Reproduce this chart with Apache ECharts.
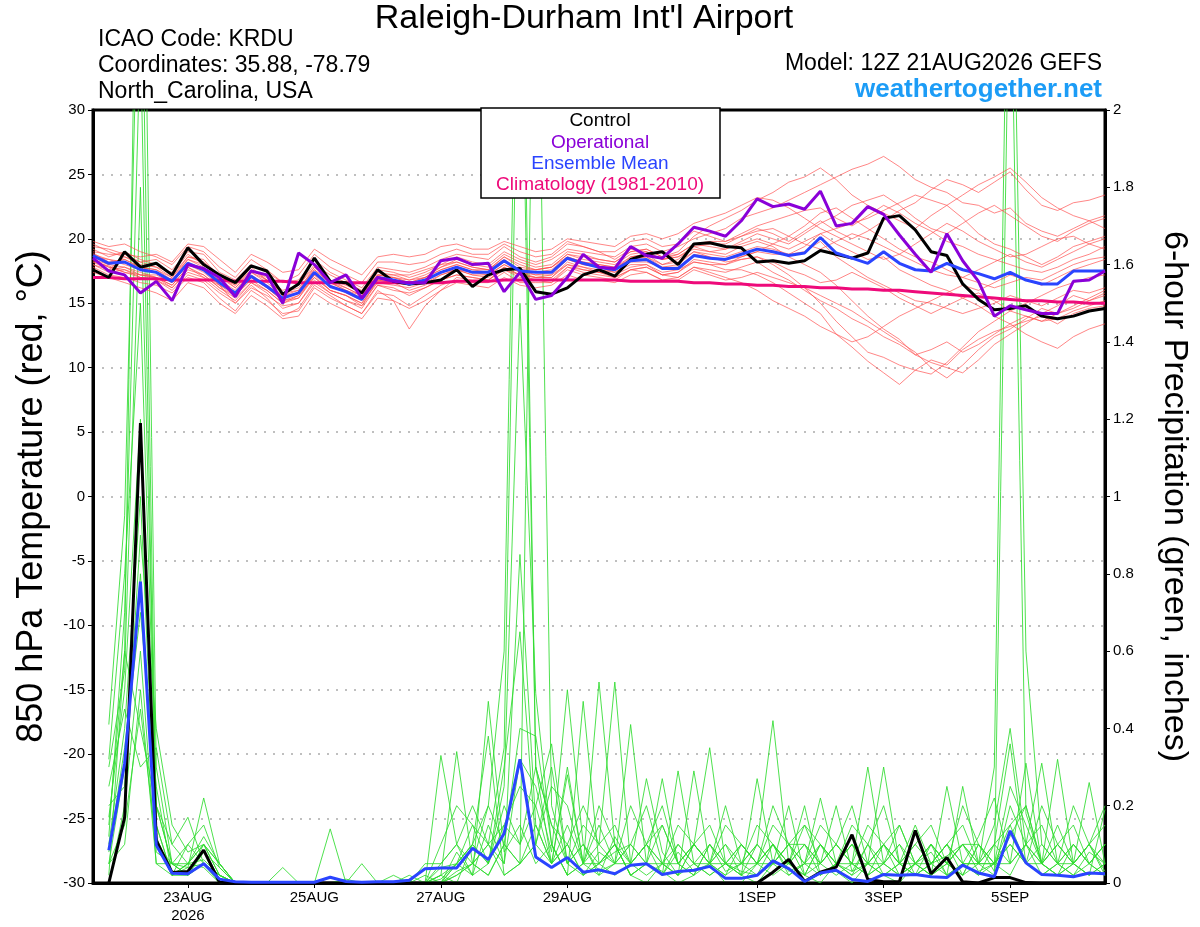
<!DOCTYPE html>
<html>
<head>
<meta charset="utf-8">
<title>KRDU GEFS meteogram</title>
<script src="https://cdn.jsdelivr.net/npm/echarts@6/dist/echarts.min.js"></script>
<style>
  html, body { margin: 0; padding: 0; background: #fff; }
  #chart { width: 1200px; height: 927px; }
</style>
</head>
<body>
<div id="chart"></div>
<script>
// 6-hourly steps from 12Z 21AUG2026 to 12Z 6SEP2026 (65 steps)
const xTickIdx = [6, 14, 22, 30, 42, 50, 58];
const xTickText = ['23AUG\n2026', '25AUG', '27AUG', '29AUG', '1SEP', '3SEP', '5SEP'];

// 850 hPa temperature (C), one value per step
const ctrlTemp = [
  17.6,17.0,19.0,17.8,18.1,17.2,19.3,18.0,17.2,16.6,
  17.9,17.5,15.7,16.5,18.5,16.7,16.6,15.8,17.6,16.7,
  16.5,16.6,16.8,17.6,16.3,17.2,17.6,17.7,15.9,15.7,
  16.2,17.2,17.6,17.1,18.4,18.8,19.0,18.0,19.6,19.7,
  19.4,19.3,18.2,18.3,18.1,18.3,19.1,18.8,18.5,18.9,
  21.6,21.8,20.7,19.0,18.7,16.5,15.3,14.5,14.6,14.8,
  14.0,13.8,14.0,14.4,14.6
];
const operTemp = [
  18.5,17.5,17.2,15.8,16.7,15.2,18.0,17.7,17.0,15.5,
  17.5,17.2,15.0,18.9,18.0,16.6,17.2,15.4,17.0,16.7,
  16.6,16.6,18.3,18.5,18.0,18.1,15.9,17.4,15.3,15.6,
  17.0,18.8,17.8,17.7,19.4,18.7,18.5,19.6,20.9,20.6,
  20.2,21.4,23.1,22.5,22.7,22.3,23.7,21.0,21.2,22.5,
  21.9,20.3,18.8,17.4,20.4,18.3,16.7,14.0,14.8,14.5,
  14.2,14.2,16.7,16.8,17.5
];
const meanTemp = [
  18.7,18.1,18.2,17.6,17.4,16.7,18.1,17.6,16.6,15.8,
  17.1,16.3,15.4,15.8,17.4,16.3,15.9,15.3,17.0,16.8,
  16.5,16.8,17.4,17.8,17.4,17.4,18.3,17.5,17.4,17.4,
  18.5,18.1,17.8,17.6,18.3,18.4,17.7,17.7,18.7,18.5,
  18.4,18.8,19.2,19.0,18.7,18.9,20.1,18.9,18.5,18.1,
  19.0,18.1,17.6,17.5,18.1,17.6,17.3,16.9,17.4,16.8,
  16.5,16.5,17.5,17.5,17.5
];
const climTemp = [
  17.0,17.0,16.9,16.9,16.9,16.8,16.8,16.8,16.8,16.7,
  16.7,16.7,16.7,16.6,16.6,16.6,16.6,16.6,16.6,16.6,
  16.6,16.6,16.6,16.7,16.7,16.7,16.8,16.8,16.8,16.8,
  16.8,16.8,16.8,16.8,16.7,16.7,16.7,16.7,16.6,16.6,
  16.5,16.5,16.4,16.4,16.3,16.3,16.2,16.2,16.1,16.1,
  16.0,16.0,15.9,15.8,15.7,15.6,15.5,15.4,15.3,15.2,
  15.2,15.1,15.1,15.0,15.0
];

// ensemble members, temperature
const memTemp = [
  [19.2,18.6,19.0,18.4,18.0,17.2,18.6,18.4,17.0,16.2,17.6,17.0,16.0,16.4,18.0,17.2,16.6,16.0,17.6,17.4,17.0,17.4,18.0,18.6,18.2,18.0,19.0,18.4,18.0,18.4,19.2,19.0,18.8,18.6,19.4,19.6,19.0,19.4,20.0,20.4,20.8,21.6,22.0,22.4,23.0,23.6,24.2,24.8,25.4,25.8,26.4,25.6,24.6,24.0,23.6,22.8,22.6,22.0,22.4,21.2,20.6,20.2,20.8,21.4,21.8],
  [18.4,17.8,17.6,17.0,16.8,16.2,17.4,17.0,16.0,15.2,16.6,15.8,14.6,15.0,16.8,15.8,15.2,14.6,16.4,16.2,15.6,16.2,16.8,17.2,17.0,16.8,17.6,17.2,16.8,16.6,17.8,17.6,17.4,17.0,17.6,17.8,17.2,17.0,17.8,17.4,17.0,16.6,16.0,15.2,14.6,14.0,13.2,12.6,11.6,10.5,9.6,8.7,9.8,10.6,10.2,11.4,12.2,12.8,13.2,13.6,14.0,13.4,14.2,14.6,14.8],
  [18.0,17.6,18.6,18.0,17.8,17.4,18.8,18.0,17.2,16.4,17.8,16.8,15.8,16.4,17.8,16.8,16.4,15.8,17.2,17.2,17.2,17.6,18.0,18.2,17.8,17.6,18.6,18.0,17.6,17.8,18.8,18.6,18.4,18.2,19.0,19.2,18.6,19.0,20.2,21.0,21.6,22.2,23.0,23.6,24.4,24.8,25.5,24.6,23.4,22.6,22.0,21.4,20.8,21.8,22.6,21.6,20.4,19.6,19.2,18.6,18.0,18.6,19.4,19.8,20.2],
  [18.8,18.4,18.2,17.8,17.6,16.8,18.2,17.6,16.8,15.6,17.0,16.2,15.2,15.4,17.0,16.0,15.6,14.8,16.8,16.6,16.0,16.4,17.2,17.6,17.2,17.2,18.0,17.4,17.0,17.0,18.2,17.8,17.4,17.6,18.6,18.8,18.0,18.4,19.4,19.0,18.8,19.4,19.8,19.4,18.6,18.0,17.4,16.4,15.2,14.0,13.0,12.2,11.0,10.4,10.0,9.6,10.6,11.8,12.6,13.4,14.2,14.8,15.6,15.2,15.6],
  [19.6,19.0,18.6,18.2,18.4,17.6,19.0,18.8,17.4,16.8,18.0,17.4,16.6,16.8,18.4,17.4,16.8,16.2,17.8,17.6,17.4,17.8,18.4,18.8,18.6,18.4,19.4,18.6,18.2,18.6,19.6,19.4,19.0,18.4,19.2,19.0,18.4,18.6,19.4,19.6,19.6,20.2,20.8,20.4,19.8,20.6,21.4,20.6,20.0,20.6,21.4,22.2,22.8,23.8,24.6,24.2,23.6,24.4,25.2,23.8,22.6,22.2,22.8,23.0,23.4],
  [17.8,17.2,17.0,16.6,16.4,15.8,17.0,16.6,15.4,14.4,16.0,15.2,14.2,14.4,16.2,15.4,14.8,14.2,15.8,15.6,14.8,15.6,16.4,16.8,16.6,16.6,17.4,16.6,16.6,16.6,17.6,17.2,17.0,16.8,17.6,17.8,17.2,17.4,18.2,18.0,18.0,18.4,18.6,18.2,17.6,17.2,16.6,16.8,17.4,16.8,16.2,15.4,14.8,14.2,14.8,15.4,15.8,15.2,14.4,14.0,13.6,13.8,14.4,14.8,15.2],
  [19.8,19.4,19.6,19.0,18.6,18.0,19.4,19.0,17.8,17.0,18.4,17.6,16.6,17.2,18.8,17.8,17.2,16.6,18.2,18.2,18.0,18.2,18.8,19.2,18.8,18.8,19.6,19.0,18.6,18.8,19.8,19.4,19.0,19.0,19.8,20.0,19.4,19.6,20.6,20.2,19.8,20.4,21.0,21.4,21.8,22.2,22.4,21.6,21.0,21.8,22.6,22.0,21.2,20.6,19.8,19.4,18.8,18.4,18.0,17.6,17.4,17.8,18.4,18.8,19.4],
  [18.2,17.6,17.8,17.2,17.0,16.4,17.8,17.2,16.2,15.4,16.6,16.0,15.0,15.4,17.2,16.0,15.6,15.0,16.6,16.4,16.2,16.6,17.2,17.6,17.4,17.2,18.0,17.4,17.2,17.2,18.4,18.0,17.8,17.4,18.2,18.2,17.8,17.8,18.8,18.6,18.4,18.6,19.0,18.8,18.8,19.4,20.4,19.6,19.0,18.4,18.6,17.6,17.0,16.4,16.0,15.4,14.8,14.0,13.4,12.6,12.0,11.5,12.4,13.0,13.4],
  [18.6,18.0,17.8,17.4,17.0,16.4,17.8,17.0,16.4,15.0,16.4,15.4,14.0,14.6,16.4,15.6,14.8,14.2,16.0,15.2,13.0,14.8,16.0,17.0,16.8,16.8,17.8,17.2,17.0,17.2,18.0,17.8,17.6,17.4,18.0,18.0,17.2,17.4,18.4,18.2,18.0,18.6,19.0,19.6,20.2,21.0,22.0,22.4,21.6,20.8,20.0,19.2,18.6,18.2,17.6,17.0,16.6,16.2,16.6,17.0,16.8,17.4,18.0,18.4,18.6],
  [18.9,18.2,18.4,17.8,17.4,16.6,18.0,17.6,16.4,15.8,17.2,16.4,15.6,15.8,17.4,16.6,16.0,15.4,17.2,17.0,16.6,17.0,17.6,18.0,17.6,17.6,18.4,17.6,17.4,17.6,18.6,18.2,18.0,17.8,18.4,18.6,17.8,18.0,19.0,18.8,18.6,19.0,19.4,19.2,18.8,19.0,19.8,18.6,17.8,17.0,16.4,15.8,15.2,15.0,14.6,14.2,14.6,15.0,15.6,15.2,14.8,15.4,16.0,15.8,16.2],
  [18.4,18.0,18.4,17.8,17.6,17.0,18.4,17.8,16.8,16.0,17.4,16.6,15.6,16.0,17.6,16.6,16.2,15.6,17.0,17.0,16.8,17.0,17.8,18.2,17.8,17.6,18.6,17.8,17.6,17.8,18.8,18.4,18.2,18.0,18.8,19.0,18.4,18.8,19.6,19.4,19.2,19.8,20.4,20.0,19.6,20.4,21.2,21.8,22.6,23.0,23.4,22.6,21.6,20.8,20.4,21.2,22.0,22.6,21.8,21.0,20.2,19.8,20.6,21.2,21.6],
  [18.0,17.4,17.6,17.2,17.0,16.2,17.6,17.2,16.2,15.6,16.8,16.0,15.0,15.6,17.0,16.0,15.6,15.0,16.8,16.6,16.4,16.8,17.4,17.6,17.2,17.0,17.8,17.2,17.0,17.0,18.0,17.6,17.4,17.2,17.8,18.0,17.4,17.6,18.2,18.0,17.6,17.6,17.2,16.6,15.8,15.0,14.2,12.6,12.0,12.4,13.2,14.0,14.6,15.2,15.8,16.4,16.0,16.6,17.2,16.8,16.4,17.0,17.6,18.0,18.4],
  [19.0,18.8,18.8,18.2,17.8,17.0,18.6,18.2,17.2,16.2,17.4,16.8,15.8,16.0,17.8,16.8,16.2,15.6,17.4,17.2,16.8,17.2,17.8,18.4,18.0,17.8,18.8,18.2,17.8,18.0,19.0,18.8,18.4,18.2,19.0,19.2,18.6,18.8,19.6,19.8,19.8,20.2,20.6,20.8,20.2,19.6,19.2,19.8,20.4,20.0,19.4,18.8,18.2,17.6,17.2,17.0,17.6,18.2,18.8,18.2,17.8,18.4,19.0,19.6,20.0],
  [18.3,17.8,17.4,17.0,16.8,16.0,17.2,16.8,15.8,15.0,16.2,15.6,14.8,15.0,16.6,15.8,15.2,14.8,16.4,16.0,15.8,16.2,16.8,17.2,17.0,16.8,17.6,17.0,16.8,16.8,17.8,17.4,17.2,17.0,17.6,17.4,16.8,16.8,17.6,17.2,16.8,17.0,17.4,17.0,16.6,16.2,15.6,15.0,14.4,13.6,12.8,12.0,11.2,10.0,9.2,10.2,11.4,12.4,13.0,13.8,14.6,14.2,14.6,15.2,15.8],
  [19.4,19.2,18.8,18.6,18.8,18.2,19.6,19.4,18.4,17.4,18.8,18.2,17.4,17.6,19.2,18.4,17.8,17.2,18.6,18.8,18.6,18.8,19.4,19.6,19.2,19.2,19.8,19.4,19.0,19.2,20.0,19.8,19.6,19.4,20.2,20.4,20.0,20.4,21.2,21.6,22.0,22.6,23.2,23.0,22.4,21.6,20.8,20.2,19.6,19.0,18.4,18.8,19.6,20.4,21.2,20.6,19.8,19.2,18.6,18.8,19.4,20.0,20.2,19.6,19.2],
  [17.4,17.0,16.6,16.2,15.8,15.2,16.6,16.2,15.0,14.2,15.6,14.8,13.8,14.0,15.8,15.0,14.4,13.8,15.4,15.2,14.6,15.2,16.0,16.6,16.4,16.2,17.0,16.4,16.2,16.4,17.2,16.8,16.8,16.6,17.2,17.4,16.8,17.0,17.8,17.6,17.4,17.8,18.2,17.4,16.8,16.0,15.2,14.6,13.8,13.2,12.4,11.8,11.0,11.4,12.0,11.2,11.8,12.6,13.4,14.0,13.6,14.2,14.8,15.4,16.0],
  [18.6,18.4,18.0,17.6,17.4,16.8,18.4,18.0,17.0,16.4,17.6,16.8,15.8,16.2,17.6,16.6,16.0,15.6,17.2,17.0,16.6,17.0,17.6,18.0,17.6,17.4,18.2,17.6,17.6,17.8,18.6,18.2,18.0,17.8,18.6,18.8,18.4,18.6,19.2,19.0,19.2,19.6,20.0,19.6,19.2,19.8,20.4,20.8,21.2,21.6,22.2,22.8,23.4,23.0,22.6,23.4,24.2,24.8,25.5,24.4,23.2,22.4,21.8,21.4,20.8],
  [18.2,17.9,17.4,17.2,17.2,16.6,18.0,17.4,16.4,15.6,17.0,16.2,15.2,15.6,17.2,16.4,15.8,15.2,16.8,16.8,16.4,16.8,17.4,17.8,17.4,17.4,18.2,17.6,17.2,17.4,18.4,18.0,17.8,17.6,18.4,18.6,18.0,18.2,19.0,18.6,18.2,18.4,18.6,18.0,17.2,16.2,15.0,13.6,12.4,11.2,10.8,10.2,9.8,9.5,10.4,11.6,12.8,13.6,14.4,15.0,15.6,16.2,16.6,17.0,17.2]
];

// 6-hour precipitation (inches), steps 1..64 (none at step 0)
const ctrlPcp = [
  0,0.17,1.19,0.11,0.027,0.03,0.085,0.002,0,0,
  0,0,0,0,0,0,0,0,0,0,
  0,0,0,0,0,0,0,0,0,0,
  0,0,0,0,0,0,0,0,0,0,
  0,0,0.028,0.061,0.004,0.028,0.041,0.125,0.009,0.003,
  0.004,0.136,0.024,0.066,0.003,0,0.014,0.014,0.001,0,
  0,0,0,0
];
const meanPcp = [
  0.085,0.31,0.78,0.098,0.025,0.024,0.05,0.01,0.003,0.002,
  0.002,0.002,0.002,0.002,0.015,0.004,0.002,0.003,0.003,0.007,
  0.037,0.039,0.039,0.09,0.061,0.128,0.32,0.067,0.04,0.066,
  0.028,0.034,0.024,0.046,0.05,0.022,0.03,0.033,0.043,0.012,
  0.012,0.02,0.057,0.037,0.004,0.026,0.033,0.009,0.004,0.022,
  0.02,0.022,0.016,0.014,0.046,0.026,0.016,0.135,0.052,0.022,
  0.02,0.016,0.026,0.024
];
const memPcp = [
  [0.15,0.6,3.2,0.3,0.05,0.02,0.1,0.02,0,0, 0,0,0,0,0,0,0,0,0,0, 0,0.04,0.05,0.1,0.2,0.6,2.8,0.3,0.05,0.1, 0.02,0.05,0.1,0.02,0,0.05,0.02,0.1,0.05,0, 0,0.05,0.1,0.02,0.05,0.1,0.03,0,0.05,0.1, 0.05,0.02,0.1,0.05,0.02,0.1,0.03,0.2,0.1,0.05, 0.02,0.05,0.1,0.03],
  [0.41,0.95,2.6,0.15,0.02,0.05,0.04,0,0,0, 0,0,0,0,0,0,0,0,0,0, 0.02,0,0.03,0.05,0.02,0.1,0.4,0.38,0.1,0.02, 0.05,0.52,0.1,0.02,0.05,0.03,0,0.02,0.1,0.05, 0.02,0,0.05,0.1,0.02,0,0.05,0.03,0.1,0.02, 0,0.05,0.1,0.02,0.25,0.05,0.3,2.9,0.6,0.1, 0.05,0.02,0.08,0.05],
  [0.32,0.8,1.5,0.2,0.1,0.17,0.05,0.02,0,0, 0,0.04,0,0,0,0,0,0,0,0, 0,0,0.08,0.02,0.15,0.05,0.32,0.25,0.08,0.5, 0.1,0.02,0.12,0.05,0.27,0.08,0.02,0.05,0.1,0.03, 0.05,0.1,0.42,0.05,0.02,0.1,0.05,0.02,0.05,0.3, 0.05,0.02,0.05,0.07,0.1,0.03,0.05,0.15,0.05,0.2, 0.1,0.05,0.02,0.19],
  [0.17,0.5,1.2,0.15,0.02,0.04,0.22,0.05,0,0, 0,0,0,0,0.14,0,0,0,0,0, 0,0.33,0.1,0.02,0.05,0.15,0.1,0.2,0.36,0.05, 0.02,0.08,0.05,0.41,0.05,0.02,0.08,0.03,0.05,0.1, 0.02,0.27,0.05,0.2,0.02,0.05,0.1,0.05,0.02,0.05, 0.15,0.05,0.02,0.25,0.05,0.02,0.1,0.05,0.31,0.05, 0.02,0.1,0.05,0.02],
  [0.1,0.4,1.0,0.08,0.05,0.02,0.05,0,0,0, 0,0,0,0,0,0.01,0,0,0,0, 0,0.02,0.34,0.05,0.1,0.02,0.05,2.7,0.2,0.05, 0.1,0.03,0.05,0.1,0.05,0.02,0.29,0.05,0.02,0.05, 0.03,0.02,0.1,0.05,0.2,0.02,0.05,0.1,0.05,0.02, 0.05,0.1,0.05,0.02,0.05,0.12,0.22,0.05,0.1,0.31, 0.05,0.02,0.05,0.1],
  [0.05,0.3,0.8,0.12,0.02,0.02,0.08,0.04,0,0, 0,0,0,0,0,0,0,0,0.02,0, 0,0,0.05,0.02,0.47,0.08,0.15,0.05,0.1,0.02, 0.47,0.05,0.1,0.02,0.05,0.15,0.05,0.1,0.35,0.05, 0.02,0.05,0.1,0.03,0.05,0.22,0.05,0.02,0.1,0.05, 0.02,0.05,0.08,0.02,0.05,0.05,0.1,0.36,0.05,0.05, 0.32,0.05,0.02,0.05],
  [0,0.2,0.6,0.05,0.05,0.04,0.05,0.02,0,0, 0,0,0,0,0,0,0.05,0,0,0, 0,0.02,0,0.1,0.05,0.25,1.5,0.49,0.1,0.02, 0.05,0.02,0.05,0.1,0.2,0.05,0.02,0.29,0.05,0.02, 0.1,0.05,0.05,0.1,0.05,0.02,0.05,0.1,0.02,0.05, 0.1,0.02,0.05,0.1,0.05,0.02,0.05,0.12,0.2,0.05, 0.1,0.05,0.26,0.05],
  [0.05,0.1,0.5,0.05,0.02,0.05,0.1,0.02,0,0, 0,0,0,0,0,0,0,0,0,0, 0,0,0.02,0.05,0.02,0.1,0.05,0.1,0.05,0.28, 0.05,0.1,0.52,0.05,0.02,0.05,0.1,0.05,0.02,0.05, 0.1,0.05,0.02,0.05,0.1,0.05,0.2,0.03,0.05,0.02, 0.05,0.05,0.02,0.05,0.1,0.05,0.02,2.5,0.18,0.05, 0.02,0.05,0.1,0.05],
  [0.02,0.6,0.4,0.2,0.05,0.02,0.05,0.01,0,0, 0,0,0,0,0,0,0,0,0,0, 0,0.01,0.05,0.1,0.38,0.02,0.05,0.15,0.05,0.1, 0.02,0.05,0.1,0.02,0.05,0.27,0.05,0.02,0.05,0.1, 0.05,0.02,0.05,0.05,0.02,0.1,0.05,0.05,0.3,0.05, 0.02,0.05,0.1,0.05,0.02,0.1,0.05,0.05,0.1,0.02, 0.05,0.1,0.05,0.02],
  [0.25,0.45,0.3,0.35,0.1,0.05,0.12,0.05,0,0, 0,0,0,0,0,0,0,0,0,0.02, 0,0.05,0.1,0.05,0.1,0.15,0.25,0.2,0.05,0.15, 0.05,0.05,0.08,0.1,0.05,0.05,0.02,0.1,0.05,0.05, 0.02,0.1,0.05,0.1,0.1,0.05,0.02,0.05,0.02,0.1, 0.05,0.02,0.05,0.1,0.05,0.05,0.05,0.1,0.05,0.1, 0.05,0.1,0.05,0.1],
  [0.12,0.7,2.2,0.1,0.02,0.05,0.06,0.02,0,0, 0,0,0,0,0,0,0,0,0,0, 0,0,0.05,0.15,0.1,0.35,2.5,0.3,0.15,0.05, 0.1,0.05,0.02,0.05,0.1,0.05,0.05,0.02,0.1,0.05, 0.05,0.1,0.05,0.02,0.05,0.05,0.1,0.05,0.05,0.1, 0.02,0.05,0.05,0.1,0.02,0.05,0.05,0.1,0.05,0.02, 0.05,0.05,0.1,0.02],
  [0.08,0.35,0.7,0.25,0.02,0.1,0.15,0.04,0,0, 0,0,0,0,0,0,0,0,0,0, 0,0,0.02,0.05,0.2,0.1,0.05,0.1,0.25,0.2, 0.05,0.15,0.05,0.05,0.1,0.02,0.1,0.05,0.05,0.02, 0.05,0.05,0.1,0.05,0.1,0.02,0.05,0.1,0.05,0.05, 0.1,0.05,0.02,0.05,0.1,0.1,0.05,0.02,0.1,0.05, 0.1,0.05,0.02,0.05],
  [0.2,0.25,0.9,0.4,0.15,0.08,0.1,0.05,0,0, 0,0,0,0,0,0,0,0,0,0, 0,0.1,0.2,0.15,0.05,0.3,0.65,0.1,0.3,0.05, 0.15,0.1,0.05,0.2,0.1,0.05,0.15,0.1,0.05,0.2, 0.05,0.15,0.1,0.05,0.15,0.1,0.05,0.15,0.1,0.2, 0.05,0.15,0.05,0.1,0.15,0.05,0.15,0.4,0.1,0.15, 0.05,0.2,0.1,0.15],
  [0.3,0.55,1.8,0.2,0.05,0.1,0.05,0.02,0,0, 0,0,0,0,0,0,0,0,0,0, 0.05,0.05,0.1,0.2,0.1,0.05,0.85,0.15,0.05,0.3, 0.05,0.2,0.1,0.05,0.1,0.2,0.05,0.1,0.15,0.05, 0.1,0.05,0.15,0.1,0.05,0.15,0.1,0.2,0.05,0.1, 0.15,0.05,0.1,0.05,0.2,0.1,0.05,0.25,0.15,0.05, 0.1,0.15,0.05,0.1],
  [0.05,0.15,0.45,0.1,0.05,0.05,0.1,0.05,0,0, 0,0,0,0,0,0,0,0,0,0, 0,0.02,0.05,0.1,0.05,0.2,0.1,0.3,0.15,0.1, 0.2,0.1,0.15,0.05,0.1,0.15,0.05,0.1,0.05,0.15, 0.1,0.05,0.2,0.1,0.15,0.05,0.1,0.05,0.15,0.1, 0.05,0.1,0.15,0.05,0.1,0.05,0.1,0.15,0.2,0.05, 0.15,0.05,0.1,0.2]
];

// 颜色
const colors = {
  control: '#000000',
  oper: '#8a00d8',
  mean: '#2a44ff',
  clim: '#ee0a7a',
  member: '#ff4a4a',
  rain: '#2fdc2f',
  grid: '#aaaaaa'
};

// time categories
const months = ['AUG', 'SEP'];
const times = [];
for (let i = 0; i < 65; i++) {
  const h = 12 + 6 * i;
  let d = 21 + Math.floor(h / 24);
  let m = 0;
  if (d > 31) { d -= 31; m = 1; }
  times.push(d + months[m] + ' ' + String(h % 24).padStart(2, '0') + 'Z');
}

const font = 'Liberation Sans, Arial, Helvetica, sans-serif';
const showTick = (idx) => xTickIdx.indexOf(idx) >= 0;
const pcp = (arr) => ['-'].concat(arr);

const series = [];
memPcp.forEach((m, k) => {
  series.push({
    name: 'pcp' + k, type: 'line', yAxisIndex: 1, data: pcp(m),
    symbol: 'none', silent: true,
    lineStyle: { color: colors.rain, width: 1, opacity: 0.85 }
  });
});
memTemp.forEach((m, k) => {
  series.push({
    name: 'tmp' + k, type: 'line', yAxisIndex: 0, data: m,
    symbol: 'none', silent: true,
    lineStyle: { color: colors.member, width: 0.9, opacity: 0.75 }
  });
});
const main = (name, data, axis, color) => ({
  name: name, type: 'line', yAxisIndex: axis, data: data,
  symbol: 'none', lineStyle: { color: color, width: 3 }
});
series.push(main('Climatology (1981-2010)', climTemp, 0, colors.clim));
series.push(main('Control pcp', pcp(ctrlPcp), 1, colors.control));
series.push(main('Mean pcp', pcp(meanPcp), 1, colors.mean));
series.push(main('Control', ctrlTemp, 0, colors.control));
series.push(main('Ensemble Mean', meanTemp, 0, colors.mean));
series.push(main('Operational', operTemp, 0, colors.oper));

// header and legend text
const headLeft = ['ICAO Code: KRDU', 'Coordinates: 35.88, -78.79', 'North_Carolina, USA'];
const legendRows = [
  ['Control', colors.control],
  ['Operational', colors.oper],
  ['Ensemble Mean', colors.mean],
  ['Climatology (1981-2010)', colors.clim]
];

const graphic = [
  { type: 'text', x: 584, y: 19, z: 50, style: { text: "Raleigh-Durham Int'l Airport", font: '34px ' + font, fill: '#000', align: 'center', verticalAlign: 'middle' } },
  { type: 'text', x: 1102, y: 64, z: 50, style: { text: 'Model: 12Z 21AUG2026 GEFS', font: '23px ' + font, fill: '#000', align: 'right', verticalAlign: 'middle' } },
  { type: 'text', x: 1102, y: 90, z: 50, style: { text: 'weathertogether.net', font: 'bold 26px ' + font, fill: '#1c9cf6', align: 'right', verticalAlign: 'middle' } },
  { type: 'rect', z: 100, shape: { x: 481, y: 108, width: 239, height: 90 }, style: { fill: '#fff', stroke: '#000', lineWidth: 1.5 } }
];
headLeft.forEach((t, k) => {
  graphic.push({ type: 'text', x: 98, y: 40 + 26 * k, z: 50, style: { text: t, font: '23px ' + font, fill: '#000', align: 'left', verticalAlign: 'middle' } });
});
legendRows.forEach((r, k) => {
  graphic.push({ type: 'text', x: 600, y: 121 + 21.3 * k, z: 101, style: { text: r[0], font: '19px ' + font, fill: r[1], align: 'center', verticalAlign: 'middle' } });
});

const chart = echarts.init(document.getElementById('chart'));
chart.setOption({
  animation: false,
  backgroundColor: '#fff',
  textStyle: { fontFamily: font },
  grid: {
    left: 93, right: 95, top: 110, bottom: 44,
    show: true, borderColor: '#000', borderWidth: 3, backgroundColor: '#fff'
  },
  xAxis: {
    type: 'category',
    data: times,
    boundaryGap: false,
    axisLine: { onZero: false, lineStyle: { color: '#000', width: 3 } },
    axisTick: { interval: showTick, length: 5, lineStyle: { color: '#000' } },
    axisLabel: {
      interval: showTick,
      formatter: (v, idx) => xTickText[xTickIdx.indexOf(idx)] || '',
      color: '#000', fontSize: 15, lineHeight: 18, margin: 6, fontFamily: font
    },
    splitLine: { show: false }
  },
  yAxis: [
    {
      type: 'value', min: -30, max: 30, interval: 5, position: 'left',
      name: '850 hPa Temperature (red, °C)',
      nameLocation: 'middle', nameGap: 43, nameRotate: 90,
      nameTextStyle: { fontSize: 36, color: '#000', fontFamily: font },
      axisLine: { show: true, lineStyle: { color: '#000', width: 3 } },
      axisTick: { show: true, length: 5, lineStyle: { color: '#000' } },
      axisLabel: { color: '#000', fontSize: 15, margin: 8, fontFamily: font },
      splitLine: { show: true, showMinLine: false, showMaxLine: false, lineStyle: { color: colors.grid, type: [2, 7], width: 1.5 } }
    },
    {
      type: 'value', min: 0, max: 2, interval: 0.2, position: 'right',
      name: '6-hour Precipitation (green, inches)',
      nameLocation: 'middle', nameGap: 52, nameRotate: -90,
      nameTextStyle: { fontSize: 34, color: '#000', fontFamily: font },
      axisLine: { show: true, lineStyle: { color: '#000', width: 3 } },
      axisTick: { show: true, length: 5, lineStyle: { color: '#000' } },
      axisLabel: { color: '#000', fontSize: 15, margin: 8, fontFamily: font },
      splitLine: { show: false }
    }
  ],
  graphic: graphic,
  series: series
});

window.addEventListener('resize', () => chart.resize());
</script>
</body>
</html>
